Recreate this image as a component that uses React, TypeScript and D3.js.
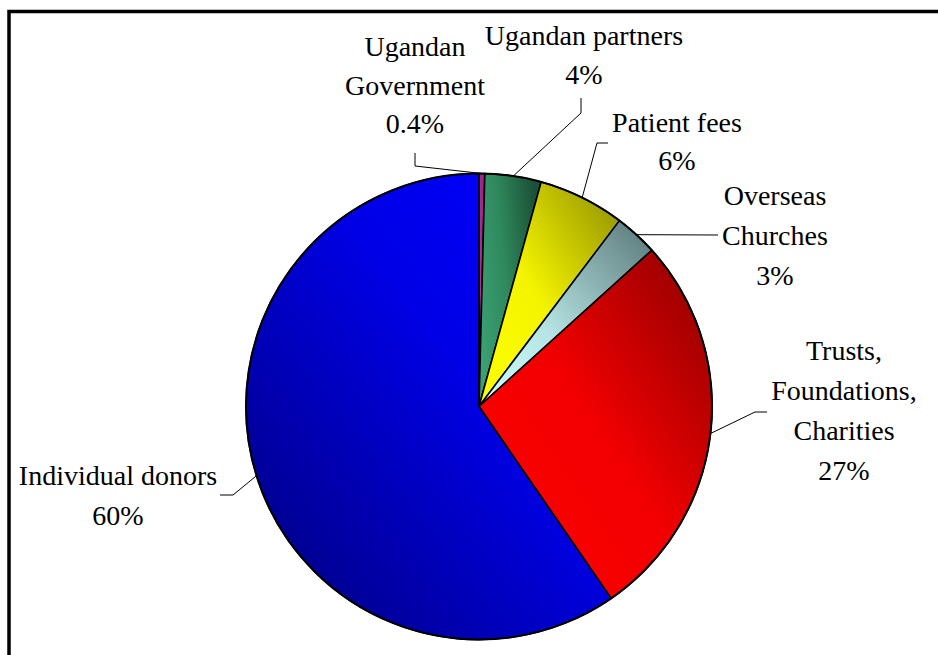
import React from "react";
import * as d3 from "d3";

const categories = ["Ugandan Government", "Ugandan partners", "Patient fees", "Overseas Churches", "Trusts, Foundations, Charities", "Individual donors"];
const values = [0.4, 3.9, 6.0, 3.0, 27.1, 59.6];
const pctLabels = ["0.4%", "4%", "6%", "3%", "27%", "60%"];
const labelLines = [
  ["Ugandan", "Government"],
  ["Ugandan partners"],
  ["Patient fees"],
  ["Overseas", "Churches"],
  ["Trusts,", "Foundations,", "Charities"],
  ["Individual donors"],
];

const W = 938, H = 655;
const cx = 479, cy = 406.5, R = 233;

const gradients = [
  { id: "g0", x1: 0, y1: 1, x2: 1, y2: 0, stops: [["0", "#c23aa8"], ["1", "#8e1f7a"]] },
  { id: "g1", x1: 0, y1: 0.7, x2: 1, y2: 0.3, stops: [["0", "#3aa072"], ["0.45", "#2f8a5e"], ["1", "#1b4f36"]] },
  { id: "g2", x1: 0, y1: 1, x2: 1, y2: 0, stops: [["0", "#ffff00"], ["0.45", "#f4f400"], ["1", "#8c8c00"]] },
  { id: "g3", x1: 0, y1: 1, x2: 1, y2: 0, stops: [["0", "#ccffff"], ["0.4", "#b6e4e4"], ["1", "#587676"]] },
  { id: "g4", x1: 0, y1: 1, x2: 1, y2: 0, stops: [["0", "#ff0000"], ["0.5", "#f20000"], ["1", "#880000"]] },
  { id: "g5", x1: 0.95, y1: 0.05, x2: 0.05, y2: 0.95, stops: [["0", "#0000ff"], ["0.4", "#0000e6"], ["1", "#000080"]] },
];

// label layout: center x, first baseline, line gap, elbow points (from label side toward pie)
const layout = [
  { x: 415, y: 56, gap: 38.5, elbow: [[415, 153], [415, 166]] },
  { x: 584, y: 45, gap: 39, elbow: [[581, 98], [581, 113]] },
  { x: 677, y: 132, gap: 38, elbow: [[608, 143], [597, 143]] },
  { x: 775, y: 205, gap: 40, elbow: [[718, 235]] },
  { x: 844, y: 360, gap: 40, elbow: [[767, 412], [755, 412]] },
  { x: 118, y: 485, gap: 40, elbow: [[220, 495], [233, 495]] },
];

export default function App() {
  const pie = d3.pie<number>().sort(null).value((d) => d).startAngle(0).endAngle(2 * Math.PI);
  const arcs = pie(values);
  const arc = d3.arc<d3.PieArcDatum<number>>().innerRadius(0).outerRadius(R);
  const line = d3.line();

  return (
    <svg width={W} height={H} style={{ position: "absolute", left: 0, top: 0, background: "#fff" }}>
      <defs>
        {gradients.map((g) => (
          <linearGradient key={g.id} id={g.id} x1={g.x1} y1={g.y1} x2={g.x2} y2={g.y2}>
            {g.stops.map(([o, c]) => (
              <stop key={o} offset={o} stopColor={c} />
            ))}
          </linearGradient>
        ))}
      </defs>
      <rect x={9} y={11.5} width={1000} height={1000} fill="none" stroke="#000" strokeWidth={3.5} />
      <g transform={`translate(${cx},${cy})`}>
        {arcs.map((a, i) => (
          <path key={i} d={arc(a) || ""} fill={`url(#g${i})`} stroke="#000" strokeWidth={1.6} strokeLinejoin="round" />
        ))}
        <circle r={R} fill="none" stroke="#000" strokeWidth={2} />
      </g>
      {arcs.map((a, i) => {
        const mid = (a.startAngle + a.endAngle) / 2;
        const ax = cx + Math.sin(mid) * R;
        const ay = cy - Math.cos(mid) * R;
        const pts = [...layout[i].elbow, [ax, ay]] as [number, number][];
        return <path key={i} d={line(pts) || ""} fill="none" stroke="#000" strokeWidth={1} />;
      })}
      {labelLines.map((lines, i) => {
        const L = layout[i];
        const all = [...lines, pctLabels[i]];
        return (
          <text key={i} textAnchor="middle" fontFamily="Liberation Serif" fontSize={28} fill="#000">
            {all.map((t, j) => (
              <tspan key={j} x={L.x} y={L.y + j * L.gap}>
                {t}
              </tspan>
            ))}
          </text>
        );
      })}
    </svg>
  );
}
